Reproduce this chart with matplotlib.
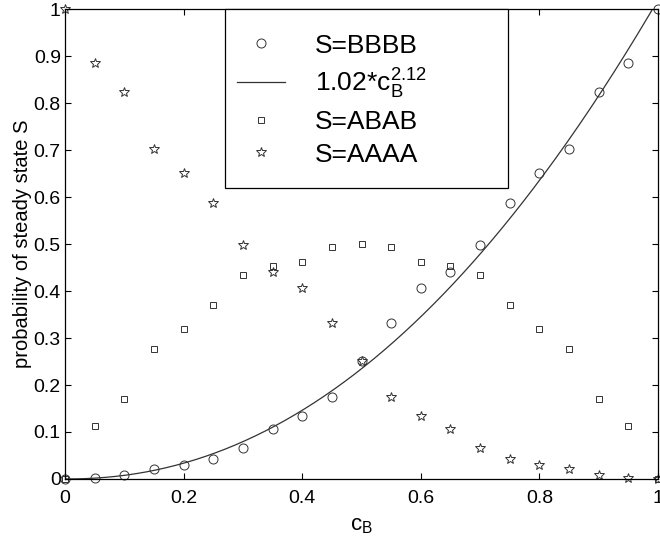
#!/usr/bin/env python3
"""Steady state probabilities vs c_B."""
import numpy as np
import matplotlib
matplotlib.use('Agg')
import matplotlib.pyplot as plt
from matplotlib.patches import Rectangle

plt.rcParams['font.family'] = ['Liberation Sans', 'DejaVu Sans']
plt.rcParams['mathtext.fontset'] = 'custom'
plt.rcParams['mathtext.rm'] = 'Liberation Sans'
plt.rcParams['mathtext.it'] = 'Liberation Sans'

c_b = np.round(np.arange(0, 1.0001, 0.05), 2)
p_bbbb = [0.0, 0.0015, 0.0085, 0.021, 0.030, 0.0425, 0.067, 0.106, 0.133, 0.175,
          0.252, 0.331, 0.406, 0.441, 0.498, 0.587, 0.651, 0.702, 0.823, 0.885, 1.0]
p_abab = [0.0, 0.113, 0.170, 0.277, 0.320, 0.370, 0.435, 0.453, 0.462, 0.494,
          0.500, 0.494, 0.462, 0.453, 0.435, 0.370, 0.320, 0.277, 0.170, 0.113, 0.0]
p_aaaa = p_bbbb[::-1]
fit_a, fit_b = 1.02, 2.12

xx = np.linspace(0, 1, 300)

fig = plt.figure(figsize=(6.6, 5.4), dpi=100)
ax = fig.add_axes([0.0985, 0.113, 0.8985, 0.870])

ax.plot(c_b, p_bbbb, 'o', mfc='none', mec='#333333', mew=0.7, ms=6.5,
        clip_on=False, label='S=BBBB')
ax.plot(xx, fit_a * xx**fit_b, '-', color='#333333', lw=0.9,
        label=r'1.02*c$_B^{2.12}$')
ax.plot(c_b, p_abab, 's', mfc='none', mec='#333333', mew=0.7, ms=5,
        clip_on=False, label='S=ABAB')
ax.plot(c_b, p_aaaa, '*', mfc='none', mec='#333333', mew=0.7, ms=7.5,
        clip_on=False, label='S=AAAA')

ax.set_xlim(0, 1)
ax.set_ylim(0, 1)
ax.set_xticks(np.arange(0, 1.01, 0.2))
ax.set_xticklabels(['0', '0.2', '0.4', '0.6', '0.8', '1'])
ax.set_yticks(np.arange(0, 1.01, 0.1))
ax.set_yticklabels(['0', '0.1', '0.2', '0.3', '0.4', '0.5', '0.6', '0.7', '0.8', '0.9', '1'])
ax.tick_params(direction='in', top=True, right=True, length=4, width=0.8,
               labelsize=14)
ax.tick_params(axis='x', pad=8)
ax.tick_params(axis='y', pad=3)
for s in ax.spines.values():
    s.set_linewidth(0.9)
ax.set_xlabel(r'c$_B$', fontsize=16, labelpad=6)
ax.set_ylabel('probability of steady state S', fontsize=14.5, labelpad=1)

# legend box drawn separately (MATLAB-style wide frame)
frame = Rectangle((0.270, 0.619), 0.477, 0.381, transform=ax.transAxes,
                  facecolor='white', edgecolor='black', lw=0.9, zorder=4,
                  clip_on=False)
ax.add_patch(frame)
leg = ax.legend(loc='upper left', bbox_to_anchor=(0.290, 0.948), borderaxespad=0,
                fontsize=19, frameon=False, handlelength=1.82, handletextpad=1.14,
                labelspacing=0.34, borderpad=0, numpoints=1)
leg.set_zorder(5)

fig.savefig('out.png', dpi=100)
print("Generated out.png")
